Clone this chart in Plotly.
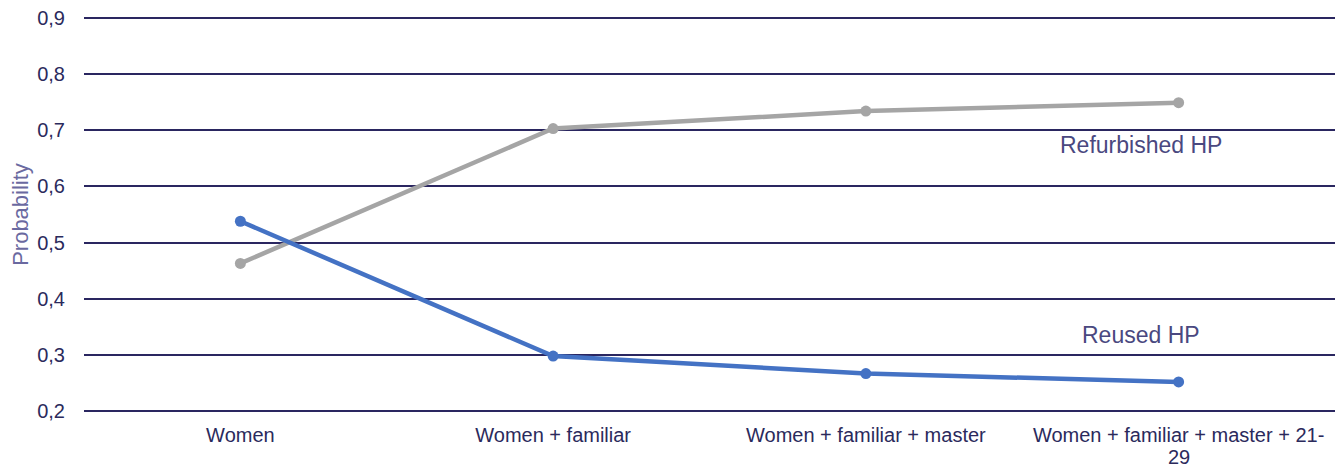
import plotly.graph_objects as go

categories = ["Women", "Women + familiar", "Women + familiar + master",
              "Women + familiar + master + 21-"]
category_second_line = ["", "", "", "29"]
reused_hp = [0.538, 0.298, 0.267, 0.252]
refurbished_hp = [0.463, 0.703, 0.734, 0.749]
y_ticks = [0.2, 0.3, 0.4, 0.5, 0.6, 0.7, 0.8, 0.9]
y_tick_labels = ["0,2", "0,3", "0,4", "0,5", "0,6", "0,7", "0,8", "0,9"]

font_family = "Liberation Sans, Arial, Helvetica, sans-serif"
tick_color = "#2b2a5c"
grid_color = "#2a2660"

fig = go.Figure()
fig.add_trace(go.Scatter(
    x=list(range(len(categories))), y=refurbished_hp, mode="lines+markers",
    name="Refurbished HP", line=dict(color="#a5a5a5", width=4.5),
    marker=dict(color="#a5a5a5", size=11)))
fig.add_trace(go.Scatter(
    x=list(range(len(categories))), y=reused_hp, mode="lines+markers",
    name="Reused HP", line=dict(color="#4472c4", width=4.5),
    marker=dict(color="#4472c4", size=11)))

fig.add_annotation(x=2.88, y=0.674, text="Refurbished HP", showarrow=False,
                   font=dict(family=font_family, size=23, color="#4a4880"))
fig.add_annotation(x=2.88, y=0.335, text="Reused HP", showarrow=False,
                   font=dict(family=font_family, size=23, color="#4a4880"))

# second line of the wrapped last category label
for i, txt in enumerate(category_second_line):
    if txt:
        fig.add_annotation(x=i, xref="x", y=-0.108, yref="paper",
                           yanchor="middle", text=txt, showarrow=False,
                           height=18, borderpad=0,
                           font=dict(family=font_family, size=20,
                                     color=tick_color))

fig.update_layout(
    width=1335, height=467,
    margin=dict(l=84, r=0, t=15, b=53),
    paper_bgcolor="white", plot_bgcolor="white",
    showlegend=False,
    font=dict(family=font_family, size=20, color=tick_color),
    xaxis=dict(
        range=[-0.5, 3.5], tickmode="array",
        tickvals=list(range(len(categories))), ticktext=categories,
        showgrid=False, zeroline=False, showline=False, ticks="",
        tickfont=dict(size=20, color=tick_color), ticklabelstandoff=7,
        automargin=False,
    ),
    yaxis=dict(
        range=[0.195, 0.905], tickmode="array", tickvals=y_ticks,
        ticktext=y_tick_labels, showgrid=True, gridcolor=grid_color,
        gridwidth=1.5, zeroline=False, showline=False, ticks="",
        tickfont=dict(size=20, color=tick_color), ticklabelstandoff=18,
        automargin=False,
        title=dict(text="Probability", standoff=2,
                   font=dict(size=22, color="#6a69a0")),
    ),
)

fig.write_html("out.html")
